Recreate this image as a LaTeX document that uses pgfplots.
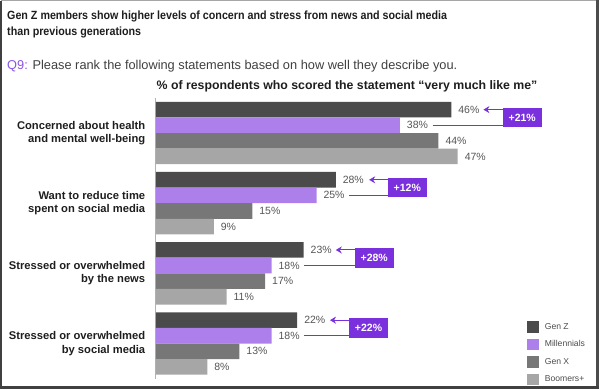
\documentclass[border=0pt]{standalone}
\usepackage{pgfplots}
\pgfplotsset{compat=1.18}
\usepackage{fontspec}
\setmainfont{Liberation Sans}
\newfontfamily\titlefont{Liberation Sans}[FakeStretch=0.9]
\usetikzlibrary{arrows.meta}
\definecolor{genz}{HTML}{4B4B4B}
\definecolor{mill}{HTML}{AD7FEA}
\definecolor{genx}{HTML}{777777}
\definecolor{boom}{HTML}{A6A6A6}
\definecolor{annot}{HTML}{7A30DC}
\definecolor{qpurple}{HTML}{8C52E0}
\definecolor{txt}{HTML}{1E1E1E}
\definecolor{lbl}{HTML}{555555}
\begin{document}
\begin{tikzpicture}[x=1pt,y=1pt]
\useasboundingbox (0,0) rectangle (600,-389);
% frame
\draw[gray!70, line width=0.8pt] (0.8,-0.5) -- (597,-0.5);
\draw[black!75, line width=1.6pt] (0.8,-0.5) -- (0.8,-387);
\draw[black!70, line width=2.8pt] (597.5,0) -- (597.5,-388.4) ;
\draw[black!75, line width=2.6pt] (0,-387.3) -- (598.9,-387.3);
% titles
\node[anchor=base west, inner sep=0, text=txt, font=\titlefont\bfseries\fontsize{11.9}{13}\selectfont] at (7,-19.5) {Gen Z members show higher levels of concern and stress from news and social media};
\node[anchor=base west, inner sep=0, text=txt, font=\titlefont\bfseries\fontsize{11.9}{13}\selectfont] at (7,-35.5) {than previous generations};
\node[anchor=base west, inner sep=0, text=black!75, font=\fontsize{12.8}{15}\selectfont] at (7,-69.5) {\textcolor{qpurple}{Q9:} Please rank the following statements based on how well they describe you.};
\node[anchor=base west, inner sep=0, text=txt, font=\bfseries\fontsize{12.3}{14}\selectfont] at (156.5,-89.5) {\% of respondents who scored the statement “very much like me”};
\begin{axis}[
  at={(156pt,-378.6pt)}, anchor=south west,
  scale only axis, width=385.2pt, height=280.7pt,
  xmin=0, xmax=60, ymin=-0.5, ymax=3.5, y dir=reverse,
  axis x line=none, axis y line*=left,
  y axis line style={draw=black!30, line width=1pt, -},
  xbar, bar width=15.6pt,
  ytick={0,1,2,3}, ytick style={draw=none},
  yticklabels={{Concerned about health\\and mental well-being},{Want to reduce time\\spent on social media},{Stressed or overwhelmed\\by the news},{Stressed or overwhelmed\\by social media}},
  yticklabel style={align=right, font=\bfseries\fontsize{11.2}{13.4}\selectfont, text=txt, xshift=-3pt},
  point meta=x,
  /pgf/number format/assume math mode=true,
  nodes near coords={\pgfmathprintnumber{\pgfplotspointmeta}\%},
  nodes near coords style={font=\fontsize{10.5}{12}\selectfont, text=lbl, anchor=west, xshift=3.5pt},
  clip=false,
  legend style={at={(0.963,0.205)}, anchor=north west, draw=none, fill=none, inner sep=0pt, row sep=5.8pt, font=\fontsize{8.6}{10}\selectfont, text=black!70, nodes={inner sep=0pt}, /tikz/every odd column/.append style={column sep=6pt}},
  legend cell align=left,
  legend image code/.code={\fill[#1] (0pt,-5.85pt) rectangle (11.7pt,5.85pt);},
]
\addplot[fill=genz, draw=none, bar shift=23.4pt] coordinates {(46,0) (28,1) (23,2) (22,3)};
\addplot[fill=mill, draw=none, bar shift=7.8pt] coordinates {(38,0) (25,1) (18,2) (18,3)};
\addplot[fill=genx, draw=none, bar shift=-7.8pt] coordinates {(44,0) (15,1) (17,2) (13,3)};
\addplot[fill=boom, draw=none, bar shift=-23.4pt] coordinates {(47,0) (9,1) (11,2) (8,3)};
\legend{Gen Z, Millennials, Gen X, Boomers+}
% annotations
\tikzset{abox/.style={fill=annot, text=white, font=\bfseries\fontsize{10.5}{12}\selectfont, minimum width=38.7pt, minimum height=19.5pt, inner sep=0pt, anchor=west}}
\draw[annot, line width=1pt, -{Stealth[length=6pt,width=7pt]}] (axis cs:54.0,-0.333) -- (axis cs:51.0,-0.333);
\draw[annot, line width=1pt] (axis cs:43.1,-0.111) -- (axis cs:54.0,-0.111);
\node[abox] at (axis cs:54.0,-0.222) {+21\%};
\draw[annot, line width=1pt, -{Stealth[length=6pt,width=7pt]}] (axis cs:36.1,0.667) -- (axis cs:33.2,0.667);
\draw[annot, line width=1pt] (axis cs:30.1,0.889) -- (axis cs:36.1,0.889);
\node[abox] at (axis cs:36.1,0.778) {+12\%};
\draw[annot, line width=1pt, -{Stealth[length=6pt,width=7pt]}] (axis cs:30.95,1.667) -- (axis cs:28.0,1.667);
\draw[annot, line width=1pt] (axis cs:23.05,1.889) -- (axis cs:30.95,1.889);
\node[abox] at (axis cs:30.95,1.778) {+28\%};
\draw[annot, line width=1pt, -{Stealth[length=6pt,width=7pt]}] (axis cs:30.06,2.667) -- (axis cs:27.1,2.667);
\draw[annot, line width=1pt] (axis cs:23.05,2.889) -- (axis cs:30.06,2.889);
\node[abox] at (axis cs:30.06,2.778) {+22\%};
\end{axis}
\end{tikzpicture}
\end{document}
